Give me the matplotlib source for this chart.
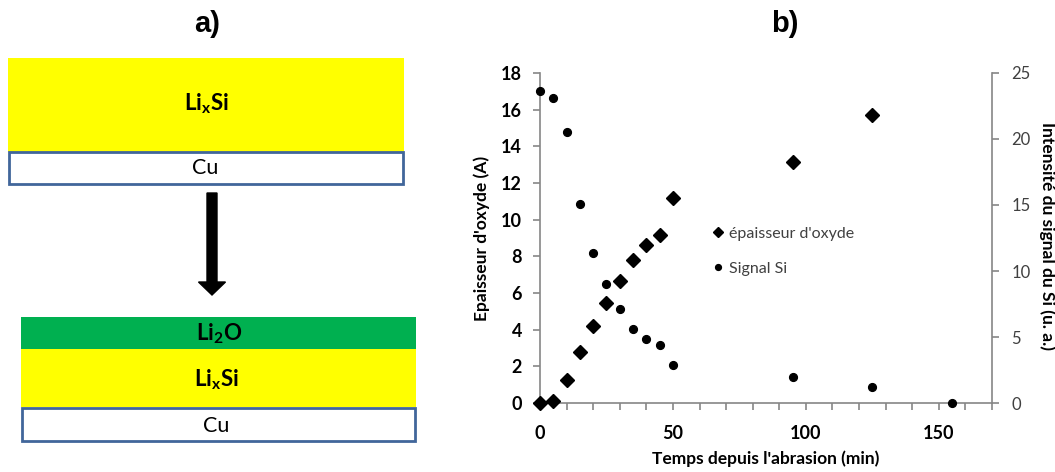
import matplotlib
matplotlib.use("Agg")
import matplotlib.pyplot as plt
from matplotlib.patches import Rectangle, FancyArrow

plt.rcParams['font.family'] = ['Lato', 'DejaVu Sans']
plt.rcParams['mathtext.fontset'] = 'custom'
plt.rcParams['mathtext.rm'] = 'Lato'
plt.rcParams['mathtext.it'] = 'Lato:italic'
plt.rcParams['mathtext.bf'] = 'Lato:bold'

# ---- data ----
temps_ox = [0, 5, 10, 15, 20, 25, 30, 35, 40, 45, 50, 95, 125]
epaisseur = [0, 0.1, 1.23, 2.79, 4.21, 5.44, 6.66, 7.8, 8.62, 9.16, 11.2, 13.12, 15.7]
temps_si = [0, 5, 10, 15, 20, 25, 30, 35, 40, 45, 50, 95, 125, 155]
signal_si = [23.6, 23.1, 20.5, 15.1, 11.4, 9.0, 7.13, 5.64, 4.86, 4.36, 2.9, 1.97, 1.21, 0]
x_ticks = [0, 50, 100, 150]
y1_ticks = [0, 2, 4, 6, 8, 10, 12, 14, 16, 18]
y2_ticks = [0, 5, 10, 15, 20, 25]

W, H = 1055, 472
fig = plt.figure(figsize=(W / 100, H / 100), dpi=100)

# ---- panel a) schematic, drawn in pixel coordinates ----
axd = fig.add_axes([0, 0, 1, 1])
axd.set_xlim(0, W)
axd.set_ylim(H, 0)
axd.axis('off')

yellow = '#ffff00'
green = '#00b050'
border = '#41669a'

axd.add_patch(Rectangle((8, 58), 396, 94, facecolor=yellow, edgecolor='none'))
axd.add_patch(Rectangle((9, 152), 394, 32, facecolor='white', edgecolor=border, lw=2))
axd.text(206, 104, r'$\mathbf{Li_{x}Si}$', ha='center', va='center', fontsize=16)
axd.text(205, 168, 'Cu', ha='center', va='center', fontsize=15.5)

axd.add_patch(FancyArrow(212, 193, 0, 102, width=10, head_width=27, head_length=13,
                         length_includes_head=True, color='black'))

axd.add_patch(Rectangle((21, 317), 395, 32, facecolor=green, edgecolor='none'))
axd.add_patch(Rectangle((21, 349), 395, 58, facecolor=yellow, edgecolor='none'))
axd.add_patch(Rectangle((22, 408), 393, 33, facecolor='white', edgecolor=border, lw=2))
axd.text(219, 334, r'$\mathbf{Li_{2}O}$', ha='center', va='center', fontsize=16)
axd.text(216, 380, r'$\mathbf{Li_{x}Si}$', ha='center', va='center', fontsize=16)
axd.text(216, 426, 'Cu', ha='center', va='center', fontsize=15.5)

fig.text(207 / W, 1 - 24 / H, 'a)', ha='center', va='center', fontsize=21,
         fontweight='bold', family=['Liberation Sans', 'DejaVu Sans'])
fig.text(785 / W, 1 - 24 / H, 'b)', ha='center', va='center', fontsize=21,
         fontweight='bold', family=['Liberation Sans', 'DejaVu Sans'])

# ---- panel b) chart ----
gray = '#868686'
ax1 = fig.add_axes([540 / W, (H - 403) / H, 452 / W, 330 / H])
ax2 = ax1.twinx()

l1, = ax1.plot(temps_ox, epaisseur, linestyle='none', marker='D', markersize=6.8,
               color='black', label="épaisseur d'oxyde", clip_on=False, zorder=3)
l2, = ax2.plot(temps_si, signal_si, linestyle='none', marker='o', markersize=5.6,
               color='black', label='Signal Si', clip_on=False, zorder=3)

ax1.set_xlim(0, 170)
ax1.set_ylim(0, 18)
ax2.set_ylim(0, 25)
ax1.set_xticks(x_ticks)
ax1.set_xticks(range(0, 171, 10), minor=True)
ax1.set_yticks(y1_ticks)
ax2.set_yticks(y2_ticks)

for a in (ax1, ax2):
    a.spines['top'].set_visible(False)
    for s in ('left', 'right', 'bottom'):
        a.spines[s].set_color(gray)
        a.spines[s].set_linewidth(1.2)
ax2.spines['left'].set_visible(False)
ax2.spines['bottom'].set_visible(False)
ax1.spines['right'].set_visible(False)

ax1.tick_params(axis='x', which='major', length=5, width=1.2, color=gray, pad=11,
                labelsize=13)
ax1.tick_params(axis='x', which='minor', length=5, width=1.2, color=gray)
ax1.tick_params(axis='y', length=5, width=1.2, color=gray, pad=8, labelsize=13)
ax2.tick_params(axis='y', length=5, width=1.2, color=gray, pad=9, labelsize=12,
                labelcolor='#404040')
for lab in ax1.get_xticklabels() + ax1.get_yticklabels():
    lab.set_fontweight('bold')

ax1.set_xlabel("Temps depuis l'abrasion (min)", fontsize=12.5, fontweight='bold',
               labelpad=6)
ax1.set_ylabel("Epaisseur d'oxyde (A)", fontsize=12.5, fontweight='bold', labelpad=8)
ax2.set_ylabel("Intensité du signal du Si (u. a.)", fontsize=12.5, fontweight='bold',
               rotation=270, va='center')
ax2.yaxis.set_label_coords(1047 / W, 0.5, transform=fig.transFigure)

leg = ax2.legend([l1, l2], ["épaisseur d'oxyde", 'Signal Si'], loc='center left',
                 bbox_to_anchor=(0.352, 0.46), frameon=False, fontsize=11.5,
                 handlelength=0.6, handletextpad=0.4, labelspacing=1.3,
                 markerscale=0.75)
for t in leg.get_texts():
    t.set_color('#404040')

fig.savefig('out.png', dpi=100)
